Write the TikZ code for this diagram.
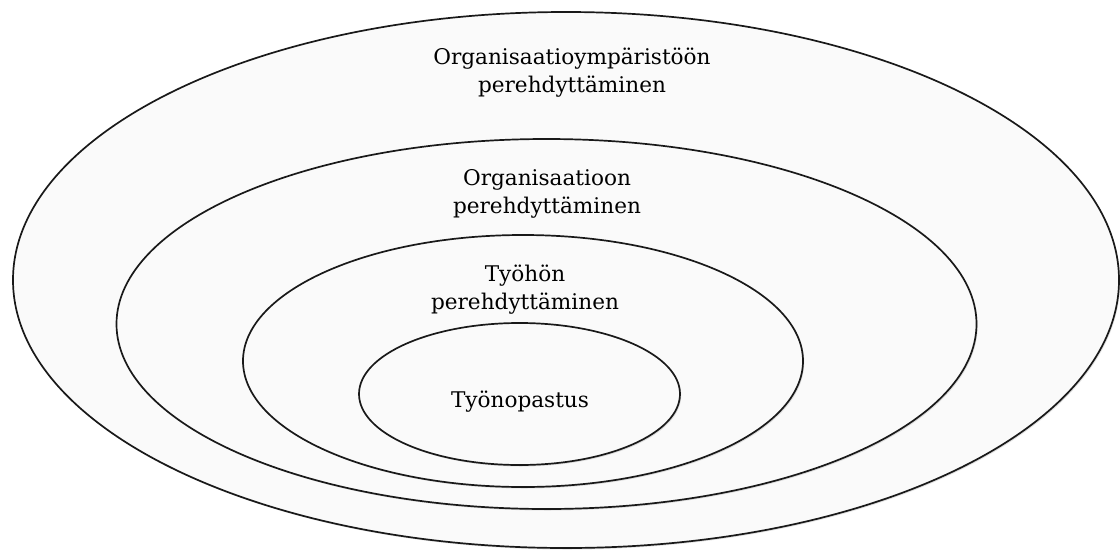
\documentclass[tikz,border=0pt]{standalone}
\usepackage{fontspec}
\setmainfont{DejaVu Serif}
\usetikzlibrary{shapes.geometric,shadows}
\definecolor{ringfill}{HTML}{FAFAFA}
\tikzset{
  ring/.style={ellipse, draw=black!90, line width=1.7pt, fill=ringfill, inner sep=0pt,
    drop shadow={shadow xshift=1.2pt, shadow yshift=-1.5pt, opacity=0.25}},
  lbl/.style={anchor=base, align=center, inner sep=0pt, text=black,
    font=\fontsize{21.6}{28.5}\selectfont}
}
\begin{document}
\begin{tikzpicture}[x=1pt,y=-1pt]
\fill[white] (0,0) rectangle (1120,550);
\useasboundingbox (0,0) rectangle (1120,550);
\node[ring, minimum width=1106pt, minimum height=536pt] (outer) at (566,280) {};
\node[ring, minimum width=860pt, minimum height=370pt] (org) at (546.5,324) {};
\node[ring, minimum width=560pt, minimum height=252pt] (work) at (523,361) {};
\node[ring, minimum width=321pt, minimum height=142pt] (inner) at (519.5,394) {};
\node[lbl] (louter) at (572,92.5) {Organisaatioympäristöön\\perehdyttäminen};
\node[lbl] (lorg) at (547,213.5) {Organisaatioon\\perehdyttäminen};
\node[lbl] (lwork) at (525,309.5) {Työhön\\perehdyttäminen};
\node[lbl] (linner) at (520,407) {Työnopastus};
\end{tikzpicture}
\end{document}
